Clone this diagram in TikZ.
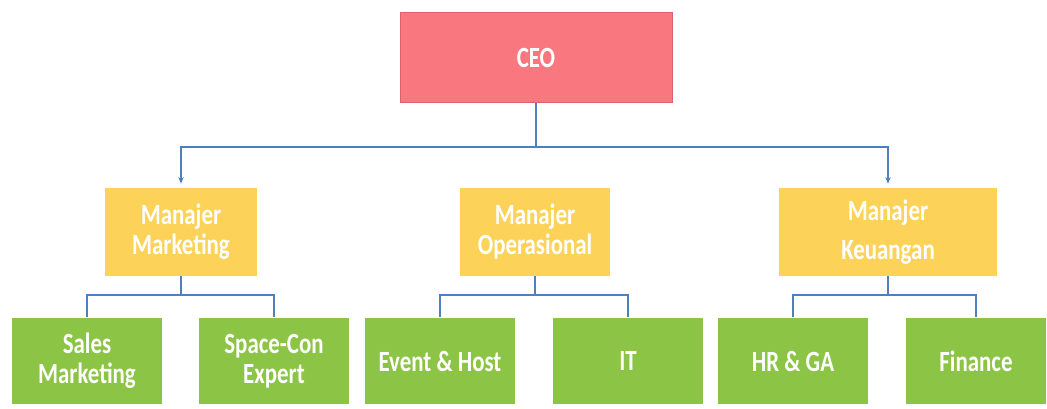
\documentclass[tikz,border=0pt]{standalone}
\usepackage{fontspec}
\usepackage{xcolor}
\usetikzlibrary{arrows.meta}
\newfontfamily\boxfont[FakeStretch=0.78]{Carlito}

\definecolor{ceofill}{RGB}{249,119,126}
\definecolor{ceoline}{RGB}{222,98,108}
\definecolor{mgrfill}{RGB}{252,211,88}
\definecolor{staffill}{RGB}{140,196,70}
\definecolor{linkblue}{RGB}{78,128,190}

\tikzset{
  unit/.style={inner sep=0pt, align=center, text=white,
    font=\boxfont\bfseries\fontsize{22}{22.5}\selectfont},
  ceobox/.style={unit, fill=ceofill, draw=ceoline, line width=0.6,
    minimum width=204pt, minimum height=68pt},
  mgrbox/.style={unit, fill=mgrfill, minimum height=66pt},
  staffbox/.style={unit, fill=staffill, minimum width=113pt, minimum height=65pt},
  link/.style={draw=linkblue, line width=1.5},
  drop/.style={link, -{Stealth[length=5pt,width=4pt]}, shorten >=3pt}
}

\begin{document}
\begin{tikzpicture}[x=0.75pt,y=0.75pt,yscale=-1,xscale=1]
\useasboundingbox (0,0) rectangle (1047,409);

%Top
\node [ceobox] (ceo) at (536,57.5) {CEO};

%Managers
\node [mgrbox, minimum width=114pt] (mktg) at (181,232) {Manajer\\Marketing};
\node [mgrbox, minimum width=113pt] (ops) at (535,232) {Manajer\\Operasional};
\node [mgrbox, minimum width=164pt] (keu) at (888,232) {Manajer\\[7pt]Keuangan};

%Staff
\node [staffbox] (sales) at (87,361) {Sales\\Marketing};
\node [staffbox] (space) at (274,361) {Space-Con\\Expert};
\node [staffbox] (event) at (440,361) {Event \& Host};
\node [staffbox] (it) at (628,361) {IT};
\node [staffbox] (hrga) at (793,361) {HR \& GA};
\node [staffbox, minimum width=105pt] (fin) at (976,361) {Finance};

%Bus lines
\coordinate (bus) at (ceo.south |- 0,147);
\coordinate (mbus) at (mktg.south |- 0,295);
\coordinate (obus) at (ops.south |- 0,295);
\coordinate (kbus) at (keu.south |- 0,295);

\draw [link] (ceo) -- (bus);
\draw [drop] (bus) -| (mktg);
\draw [drop] (bus) -| (keu);

\draw [link] (mktg) -- (mbus);
\draw [link] (mbus) -| (sales);
\draw [link] (mbus) -| (space);

\draw [link] (ops) -- (obus);
\draw [link] (obus) -| (event);
\draw [link] (obus) -| (it);

\draw [link] (keu) -- (kbus);
\draw [link] (kbus) -| (hrga);
\draw [link] (kbus) -| (fin);

\end{tikzpicture}
\end{document}
